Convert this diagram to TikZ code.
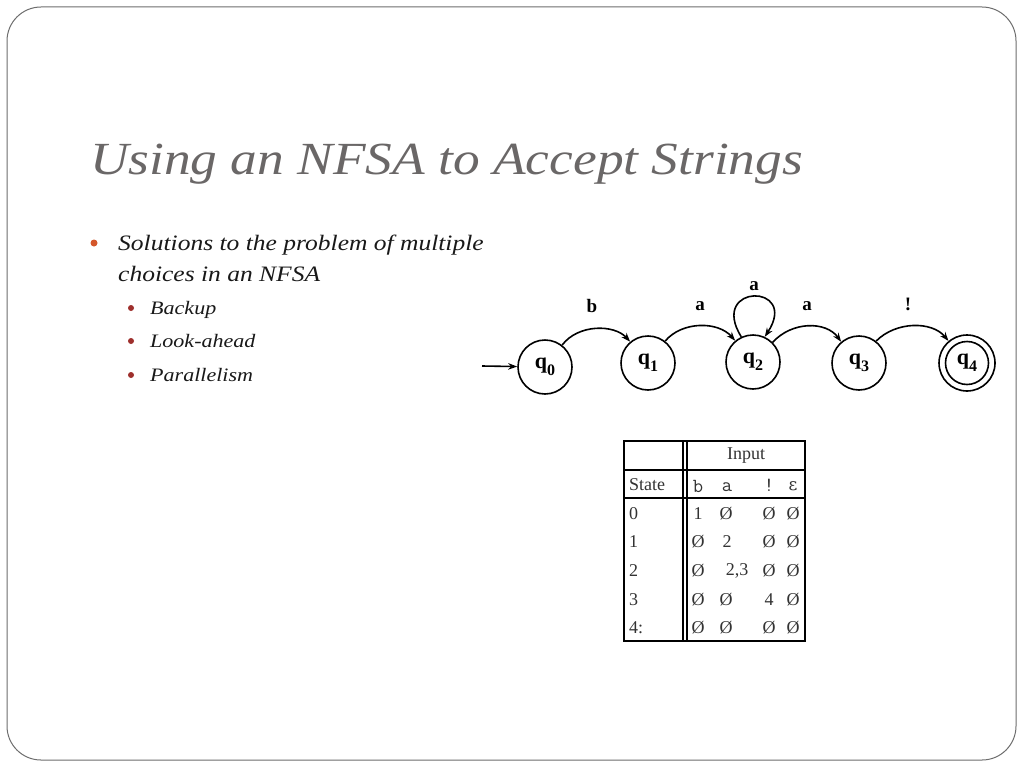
\documentclass[tikz,border=0pt]{standalone}
\usepackage{fontspec}
\setmainfont{Liberation Serif}
\newfontfamily\tnr{Liberation Serif}
\newfontfamily\wide{Liberation Serif}[FakeStretch=1.16]
\newfontfamily\djv{DejaVu Serif}
\usetikzlibrary{arrows.meta}
\definecolor{titlegray}{HTML}{6A6767}
\definecolor{bulletorange}{HTML}{D4572A}
\definecolor{bulletred}{HTML}{9E2F2C}
\definecolor{framegray}{HTML}{6E6E6E}
\tikzset{
  state/.style={circle, draw, line width=1.6pt, minimum size=54pt, inner sep=0pt},
  arr/.style={line width=1.6pt, -{Stealth[length=9pt,width=6.5pt]}},
  edgelbl/.style={font=\fontsize{19}{19}\tnr\bfseries, inner sep=0pt},
  tbl/.style={line width=1.2pt},
  cell/.style={font=\fontsize{18}{18}\tnr, inner sep=0pt, text=black!80},
  ttcell/.style={font=\fontsize{20}{20}\ttfamily, inner sep=0pt, text=black!80},
  mainbul/.style={circle, fill=bulletorange, inner sep=0pt, minimum size=7pt},
  subbul/.style={circle, fill=bulletred, inner sep=0pt, minimum size=6pt},
  maintxt/.style={font=\fontsize{22}{22}\wide\itshape, anchor=base west, inner sep=0pt, text=black!90},
  subtxt/.style={font=\fontsize{19}{19}\wide\itshape, anchor=base west, inner sep=0pt, text=black!90}
}
\newcommand{\ql}[1]{{\fontsize{22}{22}\tnr\bfseries q\raisebox{-7pt}{\fontsize{16}{16}\selectfont #1}}}
\newcommand{\emp}{{\fontsize{18}{18}\tnr Ø}}
\begin{document}
\begin{tikzpicture}[x=1pt,y=-1pt]
\useasboundingbox (0,0) rectangle (1024,768);
\fill[white] (0,0) rectangle (1024,768);
\draw[framegray, line width=1pt, rounded corners=34pt] (7,7) rectangle (1016,760);

% title
\node[anchor=base west, inner sep=0pt, text=titlegray, font=\fontsize{46}{46}\wide\itshape] (title) at (90,174) {Using an NFSA to Accept Strings};

% bullets
\node[mainbul] (b1) at (94,243) {};
\node[maintxt] (t1) at (118,250) {Solutions to the problem of multiple};
\node[maintxt] (t1b) at (118,281) {choices in an NFSA};
\node[subbul] (b2) at (131,308) {};
\node[subtxt] (t2) at (150,314) {Backup};
\node[subbul] (b3) at (131,341) {};
\node[subtxt] (t3) at (150,347) {Look-ahead};
\node[subbul] (b4) at (131,375) {};
\node[subtxt] (t4) at (150,381) {Parallelism};

% automaton
\node[state] (q0) at (545,367) {\ql{0}};
\node[state] (q1) at (648,363) {\ql{1}};
\node[state] (q2) at (753,362) {\ql{2}};
\node[state] (q3) at (859,363) {\ql{3}};
\node[state, minimum size=56pt] (q4) at (967,363) {\ql{4}};
\node[circle, draw, line width=1.6pt, minimum size=43pt, inner sep=0pt] (q4in) at (q4) {};
\coordinate (start) at (482,366);
\draw[arr] (start) -- (q0);
\draw[arr] (q0.52) .. controls (578,324) and (614,324) .. (q1.130);
\draw[arr] (q1.52) .. controls (682,321) and (718,321) .. (q2.130);
\draw[arr] (q2.115) .. controls (708,283) and (800,283) .. (q2.65);
\draw[arr] (q2.45) .. controls (792,321) and (826,321) .. (q3.130);
\draw[arr] (q3.52) .. controls (896,321) and (932,321) .. (q4.130);
\node[edgelbl] (lb) at (592,306) {b};
\node[edgelbl] (la1) at (700,306) {a};
\node[edgelbl] (la2) at (754,286) {a};
\node[edgelbl] (la3) at (807,306) {a};
\node[edgelbl] (lx) at (908,304) {!};

% table
\draw[tbl] (624,441) rectangle (805,641);
\draw[tbl] (683,441) -- (683,641);
\draw[tbl] (687,441) -- (687,641);
\draw[tbl] (624,470) -- (805,470);
\draw[tbl] (624,498) -- (805,498);
\node[cell] (hin) at (746,456) {Input};
\node[cell, anchor=west] (hst) at (629,485) {State};
\node[ttcell] (hb) at (698,486) {b};
\node[ttcell] (ha) at (727,487) {a};
\node[ttcell] (hx) at (769,485) {!};
\node[cell] (he) at (793,486) {\djv\fontsize{17}{17}\selectfont ε};
% rows
\node[cell, anchor=west] (r0) at (629,514) {0};
\node[cell, anchor=west] (r1) at (629,542) {1};
\node[cell, anchor=west] (r2) at (629,571) {2};
\node[cell, anchor=west] (r3) at (629,600) {3};
\node[cell, anchor=west] (r4) at (629,628) {4:};
\node[cell] (c0b) at (698,514) {1};
\node[cell] (c0a) at (726,514) {\emp};
\node[cell] (c0x) at (769,514) {\emp};
\node[cell] (c0e) at (793,514) {\emp};
\node[cell] (c1b) at (698,542) {\emp};
\node[cell] (c1a) at (727,542) {2};
\node[cell] (c1x) at (769,542) {\emp};
\node[cell] (c1e) at (793,542) {\emp};
\node[cell] (c2b) at (698,571) {\emp};
\node[cell] (c2a) at (737,571) {2,3};
\node[cell] (c2x) at (769,571) {\emp};
\node[cell] (c2e) at (793,571) {\emp};
\node[cell] (c3b) at (698,600) {\emp};
\node[cell] (c3a) at (726,600) {\emp};
\node[cell] (c3x) at (769,600) {4};
\node[cell] (c3e) at (793,600) {\emp};
\node[cell] (c4b) at (698,628) {\emp};
\node[cell] (c4a) at (726,628) {\emp};
\node[cell] (c4x) at (769,628) {\emp};
\node[cell] (c4e) at (793,628) {\emp};
\end{tikzpicture}
\end{document}
